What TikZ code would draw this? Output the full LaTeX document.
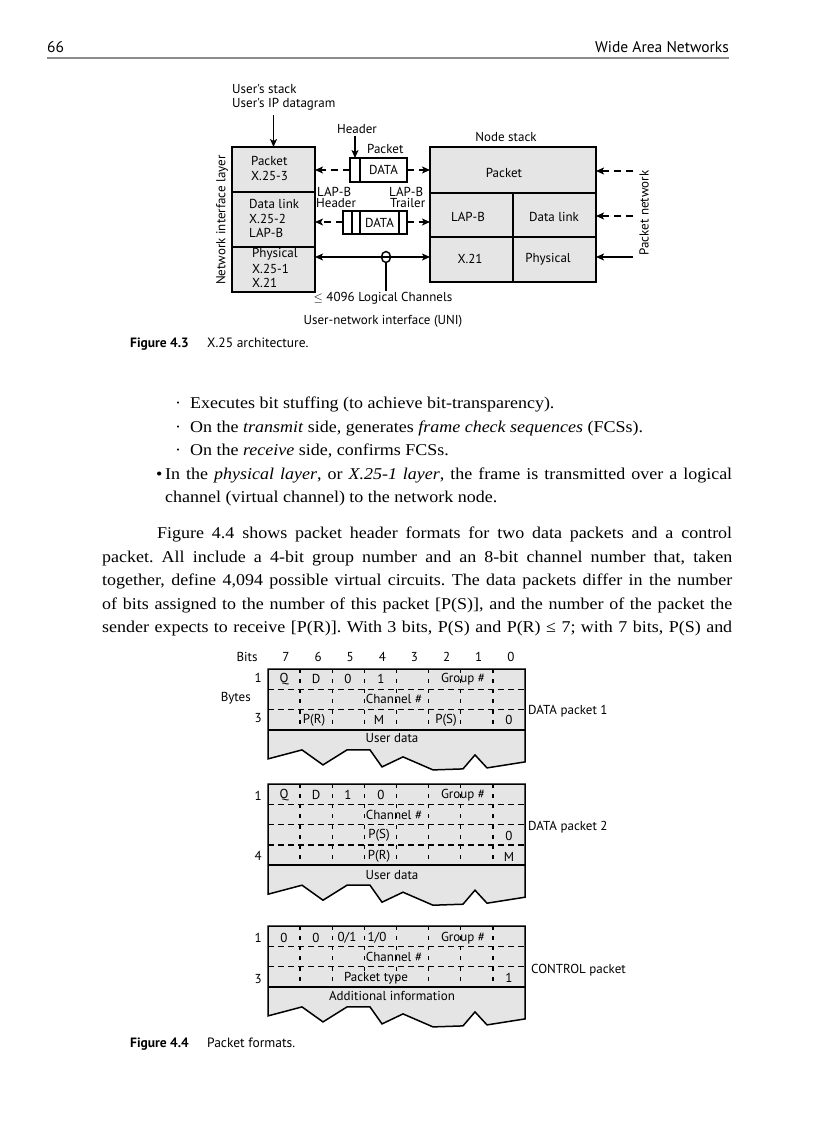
\documentclass[tikz,border=0pt]{standalone}
\usepackage{fontspec}
\setmainfont{Liberation Serif}[FakeStretch=1.09]
\newfontfamily\figfont{PT Sans}
\usetikzlibrary{arrows.meta,shapes.geometric}
\definecolor{boxfill}{gray}{0.9}
\definecolor{rulegray}{gray}{0.55}
\frenchspacing
\tikzset{
 lbl/.style={font=\figfont\fontsize{13}{15}\selectfont, inner sep=0pt},
 hdrtxt/.style={font=\figfont\fontsize{15.5}{18}\selectfont, inner sep=0pt},
 captb/.style={font=\figfont\bfseries\fontsize{13.5}{15}\selectfont, inner sep=0pt},
 capt/.style={font=\figfont\fontsize{13.5}{15}\selectfont, inner sep=0pt},
 body/.style={font=\fontsize{16.5}{19}\selectfont, inner sep=0pt, anchor=base west},
 layer/.style={draw, line width=1.8pt, fill=boxfill, anchor=north west, inner sep=0pt, outer sep=0pt},
 cell/.style={draw, line width=1.6pt, fill=white, anchor=north west, inner sep=0pt, outer sep=0pt},
 arr/.style={line width=1.6pt, -{Stealth[length=8pt,width=7pt,inset=2pt]}},
 darr/.style={arr, dash pattern=on 7pt off 5pt},
 pktline/.style={line width=1.5pt},
 hdash/.style={line width=1.4pt, dash pattern=on 6pt off 4pt},
 vdash/.style={line width=1.4pt, dash pattern=on 4pt off 6.15pt},
}
\newcommand\boxat[6]{\node[#1, minimum width={#5-#3}, minimum height={#6-#4}] (#2) at (#3,#4) {};}
\newcommand\drawpkt[2]{%
 \pgfmathsetmacro\hb{#1+#2*20.3}%
 \filldraw[pktline, fill=boxfill] (268,#1) -- (525,#1) -- (525,{\hb+32}) -- (487,{\hb+38}) -- (475,{\hb+25}) -- (463,{\hb+39}) -- (433,{\hb+40}) -- (403,{\hb+27}) -- (382,{\hb+37}) -- (370,{\hb+20}) -- (347,{\hb+20}) -- (323,{\hb+35}) -- (302,{\hb+20}) -- (268,{\hb+29}) -- cycle;
 \draw[pktline] (268,\hb) -- (525,\hb);
 \pgfmathtruncatemacro\nr{#2-1}%
 \foreach \r in {1,...,\nr} {\draw[hdash] (268,{#1+\r*20.3}) -- (525,{#1+\r*20.3});}
 \foreach \k in {1,...,7} {\draw[vdash] ({268+\k*32.125},#1) -- ({268+\k*32.125},\hb);}
}
\begin{document}
\begin{tikzpicture}[x=1pt,y=-1pt]
\useasboundingbox[fill=white] (0,0) rectangle (816,1123);
% running head
\node[hdrtxt, anchor=base west] (pg) at (47,53) {66};
\node[hdrtxt, anchor=base east] (rh) at (729,53) {Wide Area Networks};
\draw[rulegray, line width=1.5pt] (47,58) -- (729,58);

% ===== Figure 4.3 =====
\boxat{layer}{lpk}{232}{147}{315}{192}
\boxat{layer}{ldl}{232}{192}{315}{247}
\boxat{layer}{lph}{232}{247}{315}{292}
\boxat{layer}{npk}{430}{147}{596}{193}
\boxat{layer}{nlap}{430}{193}{513}{237}
\boxat{layer}{ndl}{513}{193}{596}{237}
\boxat{layer}{nx}{430}{237}{513}{282}
\boxat{layer}{nph}{513}{237}{596}{282}
% packet
\boxat{cell}{ph}{350}{158}{360}{182}
\boxat{cell}{pd}{360}{158}{407}{182}
\node[lbl] (pdt) at (pd) {DATA};
% frame
\boxat{cell}{fh1}{343}{211}{352}{234}
\boxat{cell}{fh2}{352}{211}{360}{234}
\boxat{cell}{fd}{360}{211}{399}{234}
\boxat{cell}{ft}{399}{211}{407}{234}
\node[lbl] (fdt) at (fd) {DATA};

\node[lbl, anchor=west] (us1) at (232,89) {User's stack};
\node[lbl, anchor=west] (us2) at (232,104) {User's IP datagram};
\coordinate (usa) at (273.5,115);
\draw[arr] (usa) -- (lpk.north);

\node[lbl, anchor=west] (t1) at (251,161) {Packet};
\node[lbl, anchor=west] (t2) at (251,176) {X.25-3};
\node[lbl, anchor=west] (t3) at (249,204) {Data link};
\node[lbl, anchor=west] (t4) at (249,219) {X.25-2};
\node[lbl, anchor=west] (t5) at (249,233) {LAP-B};
\node[lbl, anchor=west] (t6) at (252,254) {Physical};
\node[lbl, anchor=west] (t7) at (252,269) {X.25-1};
\node[lbl, anchor=west] (t8) at (252,283) {X.21};
\node[lbl, rotate=90] (nil) at (222,220) {Network interface layer};

\node[lbl] (hd) at (357,129) {Header};
\coordinate (hda) at (355,136);
\draw[arr] (hda) -- (ph.north);
\node[lbl, anchor=west] (pkl) at (367,149) {Packet};
\node[lbl, anchor=west] (lb1) at (317,192) {LAP-B};
\node[lbl, anchor=west] (lb2) at (316,203) {Header};
\node[lbl, anchor=west] (lb3) at (389,192) {LAP-B};
\node[lbl, anchor=west] (lb4) at (390,203) {Trailer};

\draw[darr] (ph.west |- 0,170) -- (lpk.east |- 0,170);
\draw[darr] (pd.east |- 0,170) -- (npk.west |- 0,170);
\draw[darr] (fh1.west |- 0,222) -- (ldl.east |- 0,222);
\draw[darr] (ft.east |- 0,222) -- (nlap.west |- 0,222);
\draw[line width=1.6pt, {Stealth[length=8pt,width=7pt,inset=2pt]}-{Stealth[length=8pt,width=7pt,inset=2pt]}] (lph.east |- 0,257) -- (nx.west |- 0,257);
\node[draw, ellipse, line width=1.5pt, minimum width=9pt, minimum height=11pt, inner sep=0pt] (lc) at (386,257) {};
\coordinate (lcb) at (386,291);
\draw[line width=1.6pt] (lc.south) -- (lcb);
\node[lbl] (lch) at (383,298) {$\leq$ 4096 Logical Channels};
\node[lbl] (uni) at (383,321) {User-network interface (UNI)};

\node[lbl] (ns) at (506,137) {Node stack};
\node[lbl] (n1) at (504,173) {Packet};
\node[lbl] (n2) at (468,217) {LAP-B};
\node[lbl] (n3) at (554,217) {Data link};
\node[lbl] (n4) at (470,259) {X.21};
\node[lbl] (n5) at (548,259) {Physical};
\coordinate (r1) at (633,171);
\coordinate (r2) at (633,216);
\coordinate (r3) at (633,257);
\draw[darr] (r1) -- (npk.east |- r1);
\draw[darr] (r2) -- (ndl.east |- r2);
\draw[arr] (r3) -- (nph.east |- r3);
\node[lbl, rotate=90] (pn) at (644,213) {Packet network};

\node[captb, anchor=base west] (c1) at (130,347) {Figure 4.3};
\node[capt, anchor=base west] (c1t) at (207,347) {X.25 architecture.};

% ===== body text =====
\node[body] (bu1) at (175,408) {\textperiodcentered};
\node[body] (l1) at (190,408) {Executes bit stuffing (to achieve bit-transparency).};
\node[body] (bu2) at (175,432) {\textperiodcentered};
\node[body] (l2) at (190,432) {On the \textit{transmit} side, generates \textit{frame check sequences} (FCSs).};
\node[body] (bu3) at (175,455) {\textperiodcentered};
\node[body] (l3) at (190,455) {On the \textit{receive} side, confirms FCSs.};
\node[body] (bu4) at (156,479) {\textbullet};
\node[body] (l4) at (165,479) {\hbox to 567pt{In the \textit{physical layer}, or \textit{X.25-1 layer}, the frame is transmitted over a logical}};
\node[body] (l5) at (165,502) {channel (virtual channel) to the network node.};
\node[body] (p1) at (157,538) {\hbox to 575pt{Figure 4.4 shows packet header formats for two data packets and a control}};
\node[body] (p2) at (102,562) {\hbox to 630pt{packet. All include a 4-bit group number and an 8-bit channel number that, taken}};
\node[body] (p3) at (102,585) {\hbox to 630pt{together, define 4,094 possible virtual circuits. The data packets differ in the number}};
\node[body] (p4) at (102,609) {\hbox to 630pt{of bits assigned to the number of this packet [P(S)], and the number of the packet the}};
\node[body] (p5) at (102,632) {\hbox to 630pt{sender expects to receive [P(R)]. With 3 bits, P(S) and P(R) ≤ 7; with 7 bits, P(S) and}};

% ===== Figure 4.4 =====
\node[lbl] (bits) at (247,657) {Bits};
\foreach \b [count=\i from 0] in {7,...,0} {\node[lbl] (bit\b) at ({286+\i*32.125},657) {\b};}

% packet 1
\drawpkt{669}{3}
\node[lbl, anchor=east] (a1) at (262,678) {1};
\node[lbl, anchor=east] (a2) at (251,698) {Bytes};
\node[lbl, anchor=east] (a3) at (262,718) {3};
\node[lbl] (a4) at (284,679) {Q};
\node[lbl] (a5) at (316,679) {D};
\node[lbl] (a6) at (348,679) {0};
\node[lbl] (a7) at (381,679) {1};
\node[lbl] (a8) at (463,679) {Group \#};
\node[lbl] (a9) at (394,699) {Channel \#};
\node[lbl] (a10) at (314,720) {P(R)};
\node[lbl] (a11) at (379,720) {M};
\node[lbl] (a12) at (446,720) {P(S)};
\node[lbl] (a13) at (509,720) {0};
\node[lbl] (a14) at (392,738) {User data};
\node[lbl, anchor=west] (a15) at (528,711) {DATA packet 1};

% packet 2
\drawpkt{784}{4}
\node[lbl, anchor=east] (b1) at (262,796) {1};
\node[lbl, anchor=east] (b2) at (262,856) {4};
\node[lbl] (b3) at (284,795) {Q};
\node[lbl] (b4) at (316,795) {D};
\node[lbl] (b5) at (348,795) {1};
\node[lbl] (b6) at (381,795) {0};
\node[lbl] (b7) at (463,795) {Group \#};
\node[lbl] (b8) at (394,815) {Channel \#};
\node[lbl] (b9) at (379,835) {P(S)};
\node[lbl] (b10) at (509,836) {0};
\node[lbl] (b11) at (379,856) {P(R)};
\node[lbl] (b12) at (509,857) {M};
\node[lbl] (b13) at (392,875) {User data};
\node[lbl, anchor=west] (b14) at (528,827) {DATA packet 2};

% packet 3
\drawpkt{926}{3}
\node[lbl, anchor=east] (d1) at (262,938) {1};
\node[lbl, anchor=east] (d2) at (262,979) {3};
\node[lbl] (d3) at (284,938) {0};
\node[lbl] (d4) at (316,938) {0};
\node[lbl] (d5) at (347,938) {0/1};
\node[lbl] (d6) at (377,938) {1/0};
\node[lbl] (d7) at (463,938) {Group \#};
\node[lbl] (d8) at (394,957) {Channel \#};
\node[lbl] (d9) at (376,978) {Packet type};
\node[lbl] (d10) at (509,978) {1};
\node[lbl] (d11) at (392,996) {Additional information};
\node[lbl, anchor=west] (d12) at (531,970) {CONTROL packet};

\node[captb, anchor=base west] (c2) at (130,1047) {Figure 4.4};
\node[capt, anchor=base west] (c2t) at (207,1047) {Packet formats.};
\end{tikzpicture}
\end{document}
